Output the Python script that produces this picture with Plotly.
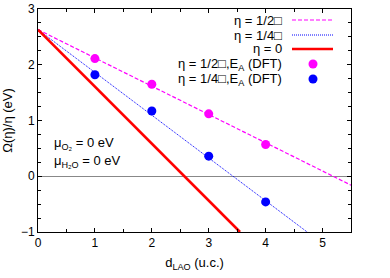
import plotly.graph_objects as go

# ---- data ----
d_dft = [1, 2, 3, 4]
e_half = [2.11, 1.65, 1.12, 0.57]
e_quarter = [1.82, 1.17, 0.36, -0.46]

line_half_x = [0, 5.5]
line_half_y = [2.63, -0.16]
line_quarter_x = [0, 4.73]
line_quarter_y = [2.63, -1.0]
line_zero_x = [0, 3.55]
line_zero_y = [2.63, -1.0]

x_ticks = [0, 1, 2, 3, 4, 5]
y_ticks = [-1, 0, 1, 2, 3]

MAG = "#ff00ff"
BLU = "#0000ff"
RED = "#ff0000"
FONT = "Liberation Sans"

W, H = 390, 278
# plot area in page pixels: x 38..351, y 9..232
PL, PR, PT, PB = 38, 351, 9, 232
L, T, R, B = PL, PT, W - PR, H - PB
PW, PH = PR - PL, PB - PT


def px(x):
    return (x - PL) / PW


def py(y):
    return (PB - y) / PH


fig = go.Figure()
fig.add_trace(go.Scatter(x=line_half_x, y=line_half_y, mode="lines",
                         line=dict(color=MAG, width=1.2, dash="4px,2px"), showlegend=False))
fig.add_trace(go.Scatter(x=line_quarter_x, y=line_quarter_y, mode="lines",
                         line=dict(color=BLU, width=1, dash="1px,1px"), showlegend=False))
fig.add_trace(go.Scatter(x=line_zero_x, y=line_zero_y, mode="lines",
                         line=dict(color=RED, width=2.6), showlegend=False))
fig.add_trace(go.Scatter(x=d_dft, y=e_half, mode="markers",
                         marker=dict(color=MAG, size=9), showlegend=False))
fig.add_trace(go.Scatter(x=d_dft, y=e_quarter, mode="markers",
                         marker=dict(color=BLU, size=9), showlegend=False))

# manual gnuplot-style key (text right, sample left)
key = [
    ("η = 1/2□", "line", MAG, 1.2, "4px,2px"),
    ("η = 1/4□", "line", BLU, 1, "1px,1px"),
    ("η = 0", "line", RED, 2.6, "solid"),
    ("η = 1/2□,E<sub>A</sub> (DFT)", "marker", MAG, 0, None),
    ("η = 1/4□,E<sub>A</sub> (DFT)", "marker", BLU, 0, None),
]
rows = [20, 35, 49, 64, 79]
shapes = []
annotations = []
for (txt, kind, col, w, dash), ry in zip(key, rows):
    annotations.append(dict(x=px(284), y=py(ry), xref="paper", yref="paper",
                            text=txt, showarrow=False, xanchor="right", yanchor="middle",
                            font=dict(family=FONT, size=13, color="black")))
    if kind == "line":
        shapes.append(dict(type="line", xref="paper", yref="paper",
                           x0=px(292), x1=px(333), y0=py(ry), y1=py(ry),
                           line=dict(color=col, width=w, dash=dash)))
    else:
        shapes.append(dict(type="circle", xref="paper", yref="paper",
                           x0=px(308.5), x1=px(317.5), y0=py(ry - 4.5), y1=py(ry + 4.5),
                           fillcolor=col, line=dict(color=col, width=0)))

annotations.append(dict(x=px(52), y=py(143), xref="paper", yref="paper",
                        text="μ<sub>O₂</sub> = 0 eV", showarrow=False, xanchor="left",
                        yanchor="middle", font=dict(family=FONT, size=13, color="black")))
annotations.append(dict(x=px(52), y=py(161), xref="paper", yref="paper",
                        text="μ<sub>H₂O</sub> = 0 eV", showarrow=False, xanchor="left",
                        yanchor="middle", font=dict(family=FONT, size=13, color="black")))

axis_common = dict(showline=True, linecolor="black", linewidth=1, mirror="allticks",
                   ticks="inside", ticklen=4, tickcolor="black", showgrid=False,
                   automargin=False,
                   tickfont=dict(family=FONT, size=12, color="black"))

fig.update_layout(
    width=W, height=H,
    margin=dict(l=L, r=R, t=T, b=B, pad=0),
    paper_bgcolor="white", plot_bgcolor="white",
    shapes=shapes, annotations=annotations,
    xaxis=dict(range=[0, 5.5], tickvals=x_ticks, zeroline=False,
               minor=dict(ticks="inside", ticklen=3, dtick=0.5, tickcolor="black"),
               title=dict(text="d<sub>LAO</sub> (u.c.)", font=dict(family=FONT, size=13, color="black"),
                          standoff=8),
               **axis_common),
    yaxis=dict(range=[-1, 3], tickvals=y_ticks, zeroline=True, zerolinecolor="#888888",
               zerolinewidth=1,
               minor=dict(ticks="inside", ticklen=3, dtick=0.25, tickcolor="black"),
               title=dict(text="Ω(η)/η (eV)", font=dict(family=FONT, size=13, color="black"),
                          standoff=6),
               **axis_common),
)

fig.write_html("out.html", config={"displayModeBar": False},
               post_script="document.body.style.margin='0px';")
